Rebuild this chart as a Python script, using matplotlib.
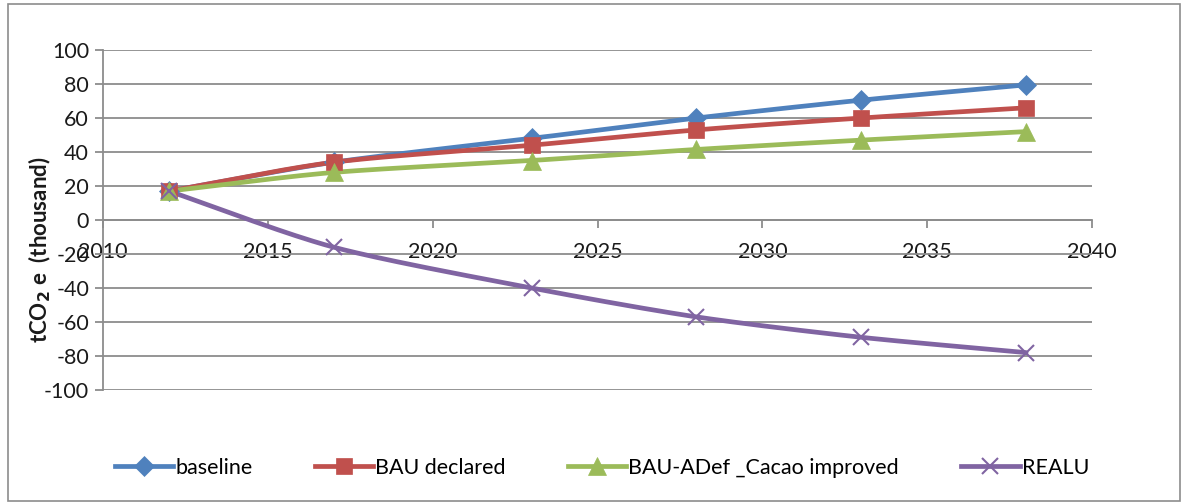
import numpy as np
import matplotlib
matplotlib.use("Agg")
import matplotlib.pyplot as plt
from matplotlib.patches import Rectangle

years = [2012, 2017, 2023, 2028, 2033, 2038]
baseline = [17, 34, 48, 60, 70.5, 79.5]
bau_declared = [17, 34, 44, 53, 60, 66]
bau_adef = [17, 28, 35, 41.5, 47, 52]
realu = [17, -16, -40, -57, -69, -78]
labels = ["baseline", "BAU declared", "BAU-ADef _Cacao improved", "REALU"]
colors = ["#4F81BD", "#C0504D", "#9BBB59", "#8064A2"]
markers = ["D", "s", "^", "x"]
msizes = [10, 11, 13, 11]

plt.rcParams['font.family'] = ['Lato', 'DejaVu Sans']
plt.rcParams['axes.unicode_minus'] = False


def smooth(x, y, n=30):
    x = np.asarray(x, float)
    y = np.asarray(y, float)
    px = np.concatenate([[2 * x[0] - x[1]], x, [2 * x[-1] - x[-2]]])
    py = np.concatenate([[2 * y[0] - y[1]], y, [2 * y[-1] - y[-2]]])
    xs, ys = [], []
    t = np.linspace(0, 1, n)
    for i in range(1, len(px) - 2):
        for arr, out in ((px, xs), (py, ys)):
            p0, p1, p2, p3 = arr[i - 1], arr[i], arr[i + 1], arr[i + 2]
            m1 = (p2 - p0) / 2 * 0.8
            m2 = (p3 - p1) / 2 * 0.8
            h00 = 2 * t**3 - 3 * t**2 + 1
            h10 = t**3 - 2 * t**2 + t
            h01 = -2 * t**3 + 3 * t**2
            h11 = t**3 - t**2
            out.extend(h00 * p1 + h10 * m1 + h01 * p2 + h11 * m2)
    return np.array(xs), np.array(ys)


W, H = 1185, 504
fig = plt.figure(figsize=(W / 100, H / 100), dpi=100)
ax = fig.add_axes([103 / W, 1 - 390 / H, (1092 - 103) / W, 340 / H])

series = [baseline, bau_declared, bau_adef, realu]
handles = []
for vals, lab, c, m, ms in zip(series, labels, colors, markers, msizes):
    sx, sy = smooth(years, vals)
    ax.plot(sx, sy, color=c, lw=3.4, solid_capstyle='round', zorder=3)
    ax.plot(years, vals, linestyle='none', marker=m, color=c, markersize=ms,
            markeredgewidth=1.5 if m == 'x' else 0.5, markeredgecolor=c, zorder=4)
    h, = ax.plot([], [], color=c, lw=3.4, marker=m, markersize=ms,
                 markeredgewidth=1.5 if m == 'x' else 0.5, markeredgecolor=c, label=lab)
    handles.append(h)

ax.set_xlim(2010, 2040)
ax.set_ylim(-100, 100)
ax.set_yticks(np.arange(-100, 101, 20))
ax.set_xticks(np.arange(2010, 2041, 5))
ax.yaxis.grid(True, color='#8C8C8C', lw=1.3)
ax.set_axisbelow(True)
for s in ['top', 'right']:
    ax.spines[s].set_visible(False)
ax.spines['bottom'].set_position(('data', 0))
ax.spines['bottom'].set_color('#8C8C8C')
ax.spines['bottom'].set_linewidth(1.3)
ax.spines['left'].set_color('#8C8C8C')
ax.spines['left'].set_linewidth(1.3)
ax.tick_params(axis='x', direction='out', length=6, width=1.3, color='#8C8C8C',
               labelsize=15.5, pad=10, labelcolor='#1a1a1a')
ax.tick_params(axis='y', direction='out', length=6, width=1.3, color='#8C8C8C',
               labelsize=15.5, pad=4, labelcolor='#1a1a1a')

fig.text(40 / W, 1 - 250 / H, r'tCO$_\mathbf{2}$ e  (thousand)', rotation=90,
         fontsize=16, fontweight='bold', ha='center', va='center', color='#1a1a1a')

fig.legend(handles=handles, loc='center', bbox_to_anchor=(0.508, 1 - 468 / H),
           ncol=4, frameon=False, fontsize=15.5, handlelength=2.7,
           handletextpad=0.1, columnspacing=2.9)

fig.patches.append(Rectangle((8 / W, 3 / H), (1180 - 8) / W, (500 - 3) / H,
                             transform=fig.transFigure, fill=False,
                             edgecolor='#8C8C8C', lw=1.2))

fig.savefig('out.png', dpi=100)
